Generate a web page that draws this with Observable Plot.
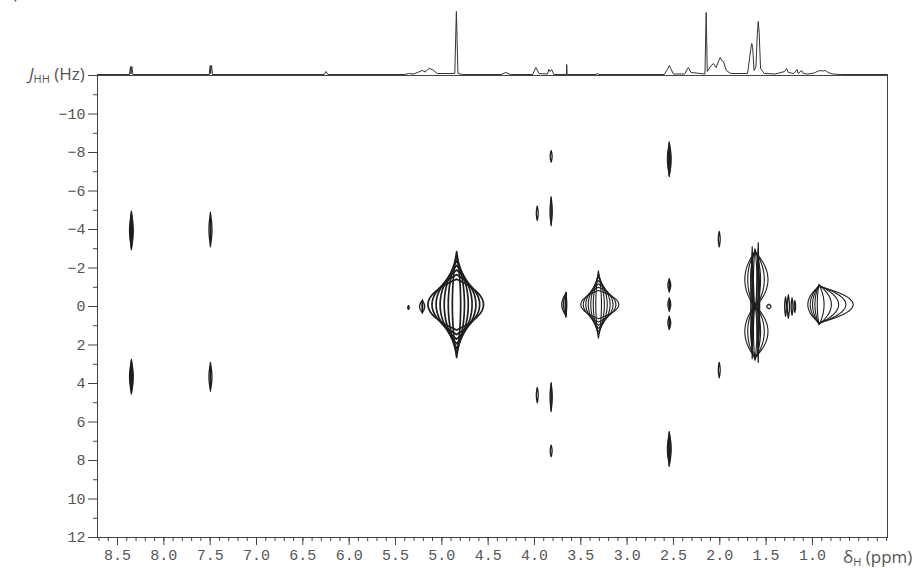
<!DOCTYPE html>
<html>
<head>
<meta charset="utf-8">
<script src="https://cdn.jsdelivr.net/npm/d3@7"></script>
<script src="https://cdn.jsdelivr.net/npm/@observablehq/plot@0.6"></script>
<style>
  body { margin: 0; background: #fff; }
  #wrap { position: relative; width: 920px; height: 568px; background: #fff; overflow: hidden; }
  #main, #spec { position: absolute; left: 0; top: 0; }
  .lbl { position: absolute; font-family: "Open Sans", "DejaVu Sans", sans-serif; font-size: 17px; color: #555; white-space: nowrap; }
  .lbl sub { font-size: 11px; vertical-align: -3px; }
</style>
</head>
<body>
<div id="wrap">
  <div id="main"></div>
  <div id="spec"></div>
  <div class="lbl" style="left:29px;top:62px"><i>J</i><sub>HH</sub> (Hz)</div>
  <div class="lbl" style="left:843px;top:545px">δ<sub>H</sub> (ppm)</div>
  <div class="lbl" style="left:4px;top:-19px;color:#444">a)</div>
</div>
<script>
// ---- 1D projection spectrum (top trace): ppm and relative intensity ----
const specPpm = [8.716, 8.37, 8.36, 8.355, 8.345, 8.335, 7.51, 7.50, 7.495, 7.485, 7.475,
  6.27, 6.25, 6.23, 5.40, 5.36, 5.30, 5.24, 5.21, 5.18, 5.14, 5.10, 5.05, 4.86, 4.843, 4.826, 4.78,
  4.36, 4.31, 4.26, 4.02, 3.985, 3.95, 3.86, 3.845, 3.83, 3.815, 3.79, 3.655, 3.652, 3.648,
  3.33, 3.32, 3.31, 2.60, 2.56, 2.545, 2.53, 2.50, 2.38, 2.34, 2.31, 2.16, 2.147, 2.135,
  2.10, 2.07, 2.04, 2.01, 1.995, 1.98, 1.96, 1.93, 1.88, 1.70, 1.665, 1.655, 1.645, 1.63,
  1.61, 1.595, 1.585, 1.575, 1.56, 1.52, 1.40, 1.34, 1.30, 1.28, 1.26, 1.20, 1.165, 1.155,
  1.115, 1.10, 1.05, 0.98, 0.95, 0.92, 0.89, 0.86, 0.83, 0.78, 0.70, 0.19];
const specInt = [0, 0, 8, 0.5, 8, 0, 0, 9, 1, 9, 0,
  0, 3, 0, 0, 1, 0.5, 3, 4, 2.5, 6, 5, 1, 1, 63, 1, 0,
  0, 2, 0, 0, 7, 1, 0.5, 5, 3, 5, 0, 0, 10, 0,
  0, 1.5, 0, 0, 6, 9, 6, 0.5, 0.5, 7, 2, 0.5, 62, 3,
  8, 11, 7, 14, 17, 14, 13, 4, 1, 1, 26, 31, 27, 4,
  8, 40, 53, 42, 6, 1, 0.5, 2, 3, 6, 2, 1, 5, 1,
  4, 1, 0.5, 1.5, 3, 4, 3.5, 4, 2, 0.5, 0, 0];

// ---- 2D J-resolved cross peaks ----
const peakPpm   = [8.35, 8.35, 7.497, 7.497, 5.36, 5.21, 4.84, 3.97, 3.82, 3.82, 3.97, 3.82, 3.82, 3.66, 3.31,
                   2.545, 2.545, 2.545, 2.545, 2.545, 2.006, 2.006, 1.62, 1.62, 1.65, 1.585, 1.47, 1.29, 1.26, 1.22, 1.19, 0.93];
const peakJ     = [-3.95, 3.65, -4.0, 3.65, 0.05, 0.0, -0.1, -4.84, -7.8, -4.95, 4.6, 4.7, 7.5, -0.1, -0.1,
                   -7.65, -1.1, -0.1, 0.85, 7.4, -3.5, 3.3, -1.4, 1.3, -0.2, -0.2, 0.0, 0.0, 0.0, 0.0, 0.0, -0.1];
const peakWidthL = [0.02, 0.02, 0.016, 0.016, 0.008, 0.03, 0.31, 0.01, 0.01, 0.012, 0.01, 0.012, 0.01, 0.045, 0.19,
                   0.02, 0.015, 0.015, 0.015, 0.02, 0.01, 0.01, 0.11, 0.11, 0.015, 0.015, 0.022, 0.01, 0.012, 0.01, 0.008, 0.12];
const peakWidthR = [0.02, 0.02, 0.016, 0.016, 0.008, 0.025, 0.29, 0.01, 0.01, 0.012, 0.01, 0.012, 0.01, 0.008, 0.22,
                   0.02, 0.015, 0.015, 0.015, 0.02, 0.01, 0.01, 0.14, 0.14, 0.015, 0.015, 0.022, 0.01, 0.012, 0.01, 0.008, 0.37];
const peakHalfJ = [1.0, 0.9, 0.9, 0.75, 0.1, 0.35, 2.75, 0.37, 0.3, 0.75, 0.4, 0.75, 0.3, 0.65, 1.75,
                   0.9, 0.35, 0.35, 0.35, 0.9, 0.4, 0.4, 1.6, 1.5, 2.9, 3.1, 0.12, 0.5, 0.6, 0.45, 0.3, 1.05];
// height of the outermost contour relative to the innermost one
const peakOuterRatio = [0.9, 0.9, 0.9, 0.9, 1, 0.9, 0.48, 1, 1, 0.9, 1, 0.9, 1, 0.9, 0.42,
                   0.9, 0.9, 0.9, 0.9, 0.9, 1, 1, 0.9, 0.9, 0.9, 0.9, 1, 1, 1, 1, 1, 0.9];
const peakLevels = [3, 3, 2, 2, 1, 2, 7, 1, 1, 2, 1, 2, 1, 3, 7,
                   3, 2, 2, 2, 3, 1, 1, 4, 4, 2, 2, 1, 1, 1, 1, 1, 5];

// x-axis ticks (ppm) and y-axis ticks (Hz)
const xMajorTicks = [8.5, 8.0, 7.5, 7.0, 6.5, 6.0, 5.5, 5.0, 4.5, 4.0, 3.5, 3.0, 2.5, 2.0, 1.5, 1.0];
const yMajorTicks = [-12, -10, -8, -6, -4, -2, 0, 2, 4, 6, 8, 10, 12];
const yMinorTicks = [-11, -9, -7, -5, -3, -1, 1, 3, 5, 7, 9, 11];

const xDomain = [8.716, 0.19];

// build tables
const spectrum = specPpm.map((p, i) => ({ppm: p, h: specInt[i]}));

const contourRows = [];
const N = 64;
peakPpm.forEach((cx, i) => {
  const n = peakLevels[i];
  const big = n >= 4;
  const r = peakOuterRatio[i];
  for (let k = 0; k < n; k++) {
    const q = n === 1 ? 1 : k / (n - 1);          // 0 = outermost, 1 = innermost
    const fx = n === 1 ? 1 : 1 - q * 0.85;
    const fy = r + (1 - r) * q;
    const pw = big ? 2 : 2.2;
    for (let j = 0; j < N; j++) {
      const t = (j / N) * 2 * Math.PI;
      const c = Math.cos(t), s = Math.sin(t);
      const w = c >= 0 ? peakWidthR[i] : peakWidthL[i];
      // higher ppm is to the left: positive cos -> lower ppm (right)
      const dx = -Math.sign(c) * Math.pow(Math.abs(c), pw) * w * fx;
      contourRows.push({ppm: cx + dx, J: peakJ[i] + s * peakHalfJ[i] * fy, id: i + "-" + k,
                        sw: big ? (i === 6 ? 1.7 : 1.1) : 1.3});
    }
  }
});

const xMinorTicks = d3.range(87, 1, -1).map(d => d / 10);

const main = Plot.plot({
  width: 920, height: 568,
  marginTop: 75, marginBottom: 31, marginLeft: 97, marginRight: 33,
  style: {fontFamily: "'Liberation Mono', 'DejaVu Sans Mono', monospace", background: "transparent", overflow: "visible"},
  x: {domain: xDomain, axis: null, label: null},
  y: {domain: [-12, 12], reverse: true, axis: null, label: null},
  marks: [
    Plot.line(contourRows, {x: "ppm", y: "J", z: "id", curve: "linear-closed", stroke: "#1e1e1e", strokeWidth: "sw"}),
    Plot.frame({stroke: "#444", strokeWidth: 1}),
    Plot.axisX({ticks: xMinorTicks, tickSize: 4, text: null, label: null, stroke: "#444", anchor: "bottom"}),
    Plot.axisX({ticks: xMajorTicks, tickSize: 8, tickPadding: 4, anchor: "bottom", label: null,
                tickFormat: d => d.toFixed(1), fontSize: 15, fill: "#555", stroke: "#444"}),
    Plot.axisY({ticks: yMinorTicks, tickSize: 4, text: null, label: null, stroke: "#444", anchor: "left"}),
    Plot.axisY({ticks: yMajorTicks, tickSize: 9, tickPadding: 3, anchor: "left", label: null,
                tickFormat: d => d === -12 ? "" : (d < 0 ? "\u2212" + Math.abs(d) : String(d)),
                fontSize: 15, fill: "#555", stroke: "#444"})
  ]
});
document.getElementById("main").appendChild(main);

const spec = Plot.plot({
  width: 920, height: 78,
  marginTop: 12, marginBottom: 4, marginLeft: 97, marginRight: 33,
  style: {background: "transparent", overflow: "visible"},
  x: {domain: xDomain, axis: null, label: null},
  y: {domain: [0, 62], axis: null, label: null},
  marks: [
    Plot.line(spectrum, {x: "ppm", y: "h", stroke: "#333", strokeWidth: 1})
  ]
});
document.getElementById("spec").appendChild(spec);
</script>
</body>
</html>
